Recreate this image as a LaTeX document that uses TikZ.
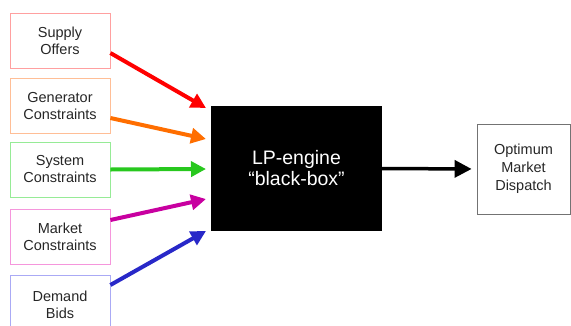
\documentclass[tikz,border=0pt]{standalone}
\usepackage{fontspec}
\setmainfont{Liberation Sans}
\usetikzlibrary{arrows.meta}
\definecolor{cred}{RGB}{255,0,0}
\definecolor{corange}{RGB}{255,110,0}
\definecolor{cgreen}{RGB}{40,200,30}
\definecolor{cmag}{RGB}{200,0,160}
\definecolor{cblue}{RGB}{40,40,200}
\definecolor{bred}{RGB}{255,160,160}
\definecolor{borange}{RGB}{255,190,150}
\definecolor{bgreen}{RGB}{150,235,150}
\definecolor{bmag}{RGB}{245,150,220}
\definecolor{bblue}{RGB}{170,170,245}
\begin{document}
\begin{tikzpicture}[x=1pt,y=-1pt,
  inbox/.style={draw,line width=0.8pt,minimum width=100pt,minimum height=55pt,align=center,inner sep=0pt,font=\fontsize{14.5}{17}\selectfont,text=black!85},
  feed/.style={line width=4pt,-{Triangle[length=15pt,width=15pt]}}]
\useasboundingbox (0,0) rectangle (571,325);
\node[inbox,draw=bred] (sup) at (60,40.5) {Supply\\Offers};
\node[inbox,draw=borange] (gen) at (60,106) {Generator\\Constraints};
\node[inbox,draw=bgreen] (sys) at (60,169.5) {System\\Constraints};
\node[inbox,draw=bmag] (mkt) at (60,236.5) {Market\\Constraints};
\node[inbox,draw=bblue,minimum height=58pt,anchor=north] (dem) at (60,275) {Demand\\Bids};
\node[fill=black,minimum width=171pt,minimum height=125pt,inner sep=0pt,text=white,align=center,font=\fontsize{19.5}{21}\selectfont] (lp) at (296.5,168.5) {LP-engine\\``black-box''};
\node[draw=black!55,line width=0.8pt,minimum width=93pt,minimum height=90pt,inner sep=0pt,align=center,font=\fontsize{14.5}{18}\selectfont,text=black!85] (opt) at (523.5,169) {Optimum\\Market\\Dispatch};
\coordinate (t1) at (206,108);
\coordinate (t2) at (206,139);
\coordinate (t3) at (206,169);
\coordinate (t4) at (206,199);
\coordinate (t5) at (206,231);
\draw[feed,cred] (sup.east|-0,53) -- (t1);
\draw[feed,corange] (gen.east|-0,118) -- (t2);
\draw[feed,cgreen] (sys.east) -- (t3);
\draw[feed,cmag] (mkt.east|-0,220) -- (t4);
\draw[feed,cblue] (dem.east|-0,285) -- (t5);
\draw[line width=3.5pt,-{Triangle[length=17pt,width=17pt]},shorten >=5pt] (lp.east) -- (opt.west);
\end{tikzpicture}
\end{document}
